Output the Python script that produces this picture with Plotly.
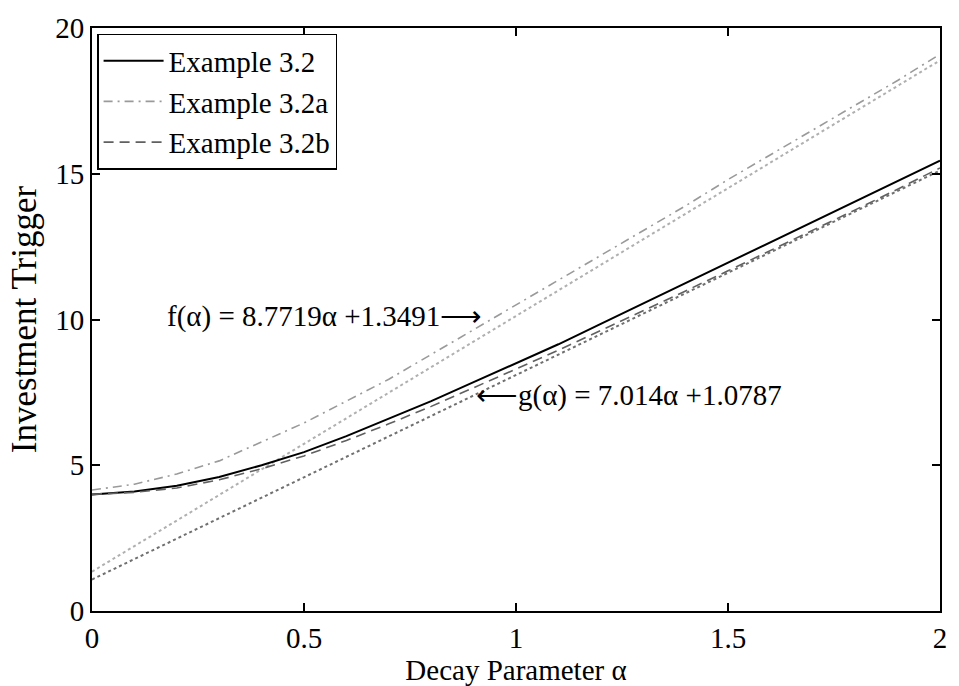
import plotly.graph_objects as go

alpha = [0.0, 0.1, 0.2, 0.3, 0.4, 0.5, 0.6, 0.7, 0.8, 0.9, 1.0,
         1.1, 1.2, 1.3, 1.4, 1.5, 1.6, 1.7, 1.8, 1.9, 2.0]

ex32 = [4.0, 4.1, 4.3, 4.6, 5.0, 5.45, 6.0, 6.6, 7.2, 7.85, 8.5,
        9.15, 9.85, 10.55, 11.25, 11.95, 12.65, 13.35, 14.05, 14.75, 15.45]

ex32a = [4.15, 4.35, 4.7, 5.15, 5.8, 6.45, 7.2, 7.95, 8.8, 9.65, 10.5,
         11.35, 12.2, 13.05, 13.9, 14.8, 15.65, 16.5, 17.35, 18.2, 19.1]

ex32b = [4.0, 4.07, 4.22, 4.5, 4.88, 5.32, 5.85, 6.42, 7.02, 7.65, 8.3,
         8.95, 9.62, 10.3, 10.98, 11.67, 12.36, 13.06, 13.76, 14.47, 15.2]

fit_x = [0.0, 2.0]
f_fit = [1.35, 18.89]
g_fit = [1.08, 15.11]

x_ticks = [0, 0.5, 1, 1.5, 2]
x_tick_labels = ["0", "0.5", "1", "1.5", "2"]
y_ticks = [0, 5, 10, 15, 20]

FONT = "Liberation Serif"

fig = go.Figure()

fig.add_trace(go.Scatter(x=fit_x, y=f_fit, mode="lines", showlegend=False,
                         line=dict(color="#b0b0b0", width=2, dash="dot")))
fig.add_trace(go.Scatter(x=fit_x, y=g_fit, mode="lines", showlegend=False,
                         line=dict(color="#707070", width=2, dash="dot")))
fig.add_trace(go.Scatter(x=alpha, y=ex32, mode="lines", name="Example 3.2",
                         line=dict(color="black", width=2)))
fig.add_trace(go.Scatter(x=alpha, y=ex32a, mode="lines", name="Example 3.2a",
                         line=dict(color="#9a9a9a", width=1.6, dash="9px,5px,2px,5px")))
fig.add_trace(go.Scatter(x=alpha, y=ex32b, mode="lines", name="Example 3.2b",
                         line=dict(color="#606060", width=1.6, dash="10px,6px")))

fig.add_annotation(x=0.925, y=10.1, xref="x", yref="y", xanchor="right", yanchor="middle",
                   text="f(α) = 8.7719α +1.3491⟶", showarrow=False,
                   font=dict(family=FONT, size=29, color="black"))
fig.add_annotation(x=0.9, y=7.38, xref="x", yref="y", xanchor="left", yanchor="middle",
                   text="⟵g(α) = 7.014α +1.0787", showarrow=False,
                   font=dict(family=FONT, size=29, color="black"))

axis_common = dict(showgrid=False, zeroline=False, showline=True, linecolor="black",
                   linewidth=2, mirror="ticks", ticks="inside", ticklen=8,
                   tickwidth=1.5, tickcolor="black", ticklabeloverflow="allow",
                   tickfont=dict(family=FONT, size=29, color="black"))

fig.update_xaxes(range=[0, 2], tickvals=x_ticks, ticktext=x_tick_labels,
                 title=dict(text="Decay Parameter α", font=dict(family=FONT, size=29, color="black"),
                            standoff=0),
                 **axis_common)
fig.update_yaxes(range=[0, 20], tickvals=y_ticks,
                 title=dict(text="Investment Trigger", font=dict(family=FONT, size=35, color="black"),
                            standoff=8),
                 **axis_common)

fig.update_layout(
    width=959, height=686,
    margin=dict(l=92, r=12, t=16, b=74),
    plot_bgcolor="white", paper_bgcolor="white",
    font=dict(family=FONT, color="black"),
    legend=dict(x=0.006, y=0.99, xanchor="left", yanchor="top",
                bgcolor="white", bordercolor="black", borderwidth=1.5,
                font=dict(family=FONT, size=29, color="black"),
                tracegroupgap=0, itemwidth=60),
)

fig.write_html("out.html")
